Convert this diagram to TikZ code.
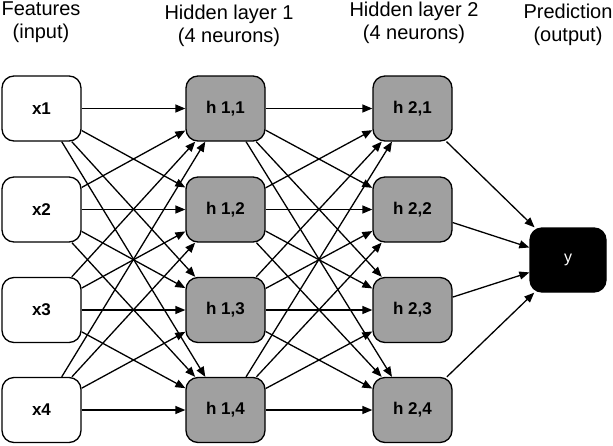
\documentclass[tikz,border=0pt]{standalone}
\usepackage{fontspec}
\setmainfont{Liberation Sans}
\usetikzlibrary{arrows.meta}
\definecolor{hidgray}{RGB}{160,160,160}
\tikzset{
  neuron/.style={draw=black, line width=1.3pt, rounded corners=12pt, minimum width=79pt, minimum height=65pt, inner sep=0pt, font=\fontsize{17}{19}\selectfont\bfseries},
  inbox/.style={neuron, fill=white},
  hidbox/.style={neuron, fill=hidgray},
  outbox/.style={neuron, fill=black, text=white, minimum width=76pt, minimum height=64pt, font=\fontsize{16}{18}\selectfont},
  title/.style={align=center, font=\fontsize{20}{23}\selectfont},
  conn/.style={line width=1.3pt, -{Triangle[length=10pt,width=8pt]}}
}
\begin{document}
\begin{tikzpicture}[x=1pt,y=-1pt]
\useasboundingbox (0,0) rectangle (613,445);
\node[title] (t0) at (41,22.5) {Features\\(input)};
\node[title] (t1) at (229,26) {Hidden layer 1\\(4 neurons)};
\node[title] (t2) at (414,22.5) {Hidden layer 2\\(4 neurons)};
\node[title] (t3) at (568,25) {Prediction\\(output)};
\foreach \i/\yy in {1/108.5,2/209.5,3/310,4/410}{
  \node[inbox] (x\i) at (41.5,\yy) {x\i};
  \node[hidbox] (a\i) at (225.5,\yy) {h 1,\i};
  \node[hidbox] (b\i) at (412.5,\yy) {h 2,\i};
}
\node[outbox] (y) at (568,260) {y};
\foreach \i in {1,...,4}{
  \foreach \j in {1,...,4}{
    \draw[conn] (x\i) -- (a\j);
    \draw[conn] (a\i) -- (b\j);
  }
  \draw[conn] (b\i) -- (y);
}
\end{tikzpicture}
\end{document}
